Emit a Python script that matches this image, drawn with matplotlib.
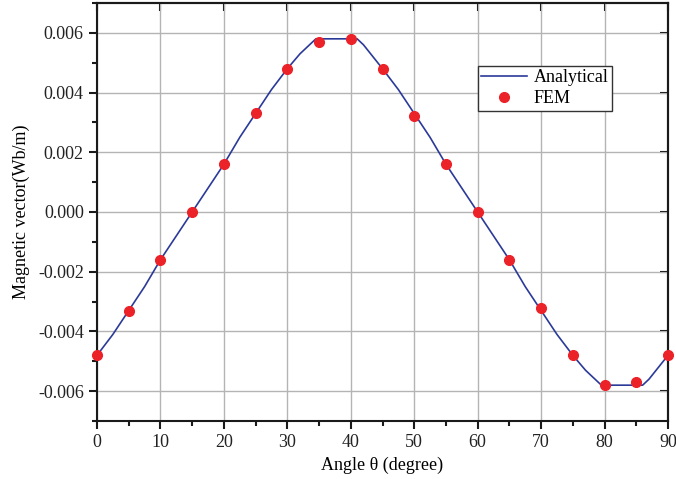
import matplotlib
matplotlib.use("Agg")
import matplotlib.pyplot as plt
from matplotlib.ticker import MultipleLocator, FuncFormatter

# Analytical curve
ana_angle = [0, 2.5, 5, 7.5, 10, 12.5, 15, 17.5, 20, 22.5, 25, 27.5, 30, 32, 33.5, 34.5,
             41, 42, 43.5, 45, 47.5, 50, 52.5, 55, 57.5, 60, 62.5, 65, 67.5, 70, 72.5,
             75, 77, 78.5, 79.5, 86, 87, 88.5, 90]
ana_value = [-0.0048, -0.0041, -0.0033, -0.0025, -0.0016, -0.0008, 0.0, 0.0008, 0.0016,
             0.0025, 0.0033, 0.0041, 0.0048, 0.0053, 0.0056, 0.0058,
             0.0058, 0.0056, 0.0052, 0.0048, 0.0041, 0.0033, 0.0025, 0.0016, 0.0008,
             0.0, -0.0008, -0.0016, -0.0025, -0.0033, -0.0041, -0.0048, -0.0053,
             -0.0056, -0.0058, -0.0058, -0.0056, -0.0052, -0.0048]

# FEM points
fem_angle = [0, 5, 10, 15, 20, 25, 30, 35, 40, 45, 50, 55, 60, 65, 70, 75, 80, 85, 90]
fem_value = [-0.0048, -0.0033, -0.0016, 0.0, 0.0016, 0.0033, 0.0048, 0.0057, 0.0058,
             0.0048, 0.0032, 0.0016, 0.0, -0.0016, -0.0032, -0.0048, -0.0058, -0.0057,
             -0.0048]

plt.rcParams['font.family'] = ['Liberation Serif', 'DejaVu Serif']

fig = plt.figure(figsize=(6.76, 4.79), dpi=100)
ax = fig.add_axes([97/676, 58/479, 571/676, 418/479])

ax.plot(ana_angle, ana_value, color='#2b3a99', lw=1.2, label='Analytical', zorder=3)
ax.plot(fem_angle, fem_value, 'o', color='#ec2229', ms=7, mec='#ec2229',
        label='FEM', zorder=4, clip_on=False)

ax.set_xlim(0, 90)
ax.set_ylim(-0.007, 0.007)
ax.xaxis.set_major_locator(MultipleLocator(10))
ax.xaxis.set_minor_locator(MultipleLocator(5))
ax.yaxis.set_major_locator(MultipleLocator(0.002))
ax.yaxis.set_minor_locator(MultipleLocator(0.001))
ax.yaxis.set_major_formatter(FuncFormatter(lambda v, p: ('%.3f' % v).replace('-0.000', '0.000')))

ax.grid(True, which='major', color='#b4b4b4', lw=1.0)
ax.set_axisbelow(True)
for s in ax.spines.values():
    s.set_linewidth(1.5)
    s.set_color('#1a1a1a')

ax.tick_params(which='major', direction='out', length=6, width=1.5, labelsize=13,
               colors='#1a1a1a')
ax.tick_params(which='minor', direction='out', length=3.5, width=1.5, colors='#1a1a1a')
for lab in ax.get_xticklabels() + ax.get_yticklabels():
    lab.set_color('#222222')

top = ax.secondary_xaxis('top')
top.xaxis.set_major_locator(MultipleLocator(10))
top.tick_params(direction='in', length=6, width=1.5, labeltop=False)
top.spines['top'].set_linewidth(1.5)
right = ax.secondary_yaxis('right')
right.yaxis.set_major_locator(MultipleLocator(0.002))
right.tick_params(direction='in', length=6, width=1.5, labelright=False)
right.spines['right'].set_linewidth(1.5)

ax.set_xlabel('Angle θ (degree)', fontsize=13, labelpad=4)
ax.set_ylabel('Magnetic vector(Wb/m)', fontsize=13, labelpad=6)

leg = ax.legend(loc='upper left', bbox_to_anchor=(0.667, 0.85), fontsize=13,
                frameon=True, fancybox=False, edgecolor='#333333', framealpha=1,
                handlelength=2.5, borderpad=0.2, labelspacing=0.2, handletextpad=0.4,
                borderaxespad=0)
leg.get_frame().set_linewidth(1.0)

fig.savefig('out.png', dpi=100)
